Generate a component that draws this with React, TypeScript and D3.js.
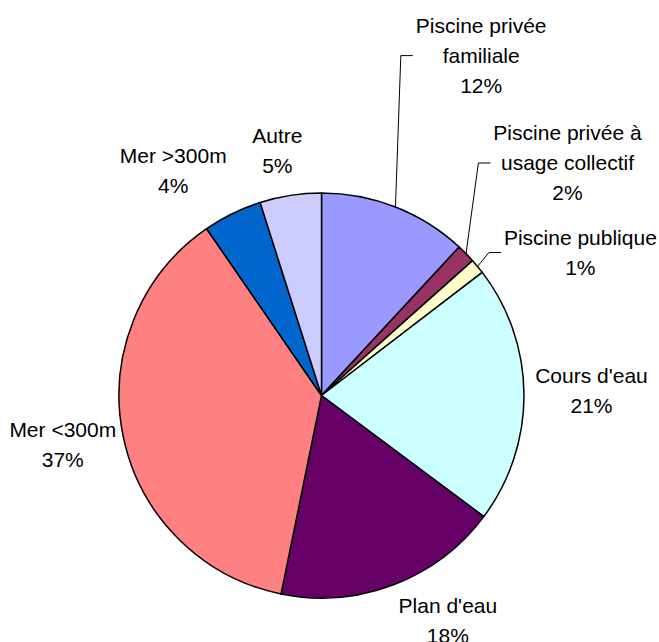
import React from "react";
import * as d3 from "d3";

const categories = [
  "Piscine privée familiale",
  "Piscine privée à usage collectif",
  "Piscine publique",
  "Cours d'eau",
  "Plan d'eau",
  "Mer <300m",
  "Mer >300m",
  "Autre",
];
const values = [11.9, 1.5, 1.2, 20.6, 18.0, 37.2, 4.7, 4.9];
const percentLabels = ["12%", "2%", "1%", "21%", "18%", "37%", "4%", "5%"];
const labelLines = [
  ["Piscine privée", "familiale"],
  ["Piscine privée à", "usage collectif"],
  ["Piscine publique"],
  ["Cours d'eau"],
  ["Plan d'eau"],
  ["Mer <300m"],
  ["Mer >300m"],
  ["Autre"],
];
const colors = ["#9999FF", "#993366", "#FFFFCC", "#CCFFFF", "#660066", "#FF8080", "#0066CC", "#CCCCFF"];

// layout
const W = 659;
const H = 642;
const CX = 321.5;
const CY = 395.5;
const R = 202.5;
const LABEL_R = 262;
const FONT = 21;
const LINE_H = 30;
const labelNudges: [number, number][] = [
  [64, -96], [59, -49], [57, 24], [8, -3], [33, -20], [-2, -3], [-33, 10], [-4, 14],
];
const hasLeader = [true, true, true, false, false, false, false, false];

function measure(text: string): number {
  const c = document.createElement("canvas").getContext("2d");
  if (!c) return text.length * FONT * 0.5;
  c.font = `${FONT}px "Liberation Sans", Arial, sans-serif`;
  return c.measureText(text).width;
}

export default function App() {
  const data = categories.map((c, i) => ({ c, v: values[i], i }));
  const pie = d3.pie<any>().value((d) => d.v).sort(null).startAngle(0).endAngle(2 * Math.PI);
  const arcs = pie(data);
  const arcGen = d3.arc<any>().innerRadius(0).outerRadius(R);

  return (
    <svg width={W} height={H} style={{ position: "absolute", left: 0, top: 0, background: "#fff" }}
      fontFamily='"Liberation Sans", Arial, sans-serif' fontSize={FONT}>
      <g transform={`translate(${CX},${CY})`}>
        {arcs.map((a, i) => (
          <path key={i} d={arcGen(a) || ""} fill={colors[i]} stroke="#000" strokeWidth={1.5} strokeLinejoin="round" />
        ))}
      </g>
      {arcs.map((a, i) => {
        const mid = (a.startAngle + a.endAngle) / 2;
        const bx = CX + LABEL_R * Math.sin(mid) + labelNudges[i][0];
        const by = CY - LABEL_R * Math.cos(mid) + labelNudges[i][1];
        const lines = [...labelLines[i], percentLabels[i]];
        const n = lines.length;
        const firstMid = by - ((n - 1) * LINE_H) / 2;
        const maxW = Math.max(...lines.map(measure));
        const left = bx - maxW / 2;
        let leader = null;
        if (hasLeader[i]) {
          const sx = CX + R * Math.sin(mid);
          const sy = CY - R * Math.cos(mid);
          const ex = left - 3;
          leader = (
            <polyline points={`${sx},${sy} ${ex - 12},${by} ${ex},${by}`} fill="none" stroke="#000" strokeWidth={1} />
          );
        }
        return (
          <g key={i}>
            {leader}
            {lines.map((t, k) => (
              <text key={k} x={bx} y={firstMid + k * LINE_H} textAnchor="middle" dominantBaseline="central" fill="#000">
                {t}
              </text>
            ))}
          </g>
        );
      })}
    </svg>
  );
}
